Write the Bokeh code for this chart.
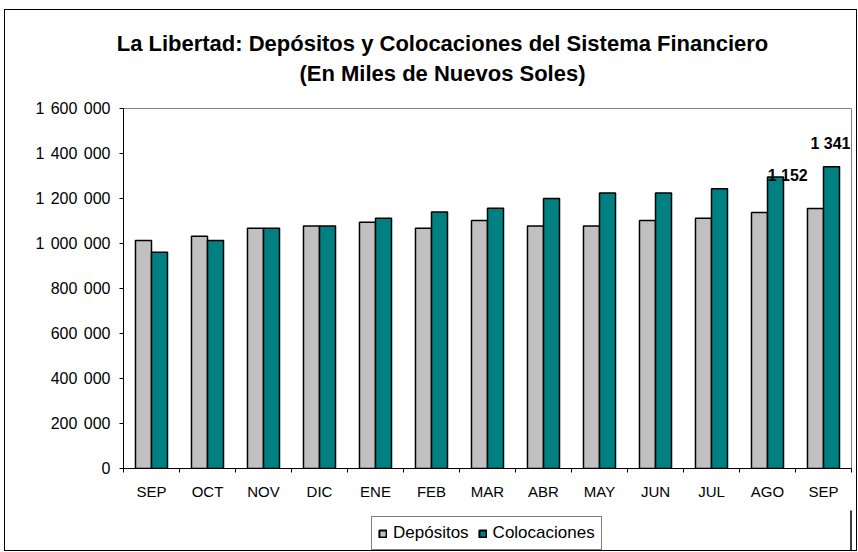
from bokeh.plotting import figure
from bokeh.layouts import column
from bokeh.models import (ColumnDataSource, FixedTicker, Range1d, Legend, LegendItem, Label, Div)
from bokeh.embed import file_html
from bokeh.resources import INLINE

months = ["SEP", "OCT", "NOV", "DIC", "ENE", "FEB", "MAR", "ABR", "MAY", "JUN", "JUL", "AGO", "SEP"]
depositos = [1013000, 1032000, 1068000, 1078000, 1095000, 1068000, 1102000, 1078000, 1078000,
             1102000, 1112000, 1138000, 1156000]
colocaciones = [961000, 1013000, 1068000, 1078000, 1112000, 1140000, 1157000, 1200000, 1225000,
                1225000, 1243000, 1296000, 1341000]
y_ticks = [0, 200000, 400000, 600000, 800000, 1000000, 1200000, 1400000, 1600000]
y_tick_labels = ["0", "200 000", "400 000", "600 000", "800 000", "1 000 000",
                 "1 200 000", "1 400 000", "1 600 000"]
data_labels = ["1 152", "1 341"]
title_lines = ["La Libertad: Depósitos y Colocaciones del Sistema Financiero",
               "(En Miles de Nuevos Soles)"]
series_names = ["Depósitos", "Colocaciones"]

FONT = "Liberation Sans"
GREY = "#C0C0C0"
TEAL = "#008080"
W = 851
n = len(months)
centers = [i + 0.5 for i in range(n)]
bw = 0.286

# ---- title ----
title_html = ('<div style="width:851px;box-sizing:border-box;padding-left:24px;padding-top:19px;'
              'text-align:center;font-family:\'Liberation Sans\';font-size:22px;font-weight:bold;'
              'line-height:30px;color:#000000;white-space:nowrap;">'
              + "<br>".join(title_lines) + '</div>')
tdiv = Div(text=title_html, width=W, height=88, margin=0)

# ---- main chart ----
src = ColumnDataSource(dict(
    xd=[c - bw / 2 for c in centers],
    xc=[c + bw / 2 for c in centers],
    dep=depositos, col=colocaciones))

p = figure(width=W, height=412, output_backend="svg", toolbar_location=None,
           x_range=Range1d(0, n), y_range=Range1d(0, 1600000),
           min_border_left=118, min_border_right=5, min_border_top=10, min_border_bottom=42)
p.outline_line_color = "#808080"
p.outline_line_width = 1
p.xgrid.visible = False
p.ygrid.visible = False

p.vbar(x="xd", top="dep", width=bw, source=src, fill_color=GREY,
       line_color="#000000", line_width=1.5)
p.vbar(x="xc", top="col", width=bw, source=src, fill_color=TEAL,
       line_color="#000000", line_width=1.5)

p.xaxis.ticker = FixedTicker(ticks=centers, minor_ticks=list(range(n + 1)))
p.xaxis.major_label_overrides = {c: m for c, m in zip(centers, months)}
p.xaxis.major_tick_line_color = None
p.xaxis.minor_tick_in = 0
p.xaxis.minor_tick_out = 4
p.xaxis.minor_tick_line_color = "#000000"
p.xaxis.axis_line_color = "#000000"
p.xaxis.major_label_text_font = FONT
p.xaxis.major_label_text_font_size = "15px"
p.xaxis.major_label_text_color = "#000000"
p.xaxis.major_label_standoff = 8

p.yaxis.ticker = FixedTicker(ticks=y_ticks)
p.yaxis.major_label_overrides = {t: l.replace(" ", "\u2009\u2009") for t, l in zip(y_ticks, y_tick_labels)}
p.yaxis.major_tick_in = 0
p.yaxis.major_tick_out = 4
p.yaxis.minor_tick_line_color = None
p.yaxis.axis_line_color = "#000000"
p.yaxis.major_tick_line_color = "#000000"
p.yaxis.major_label_text_font = FONT
p.yaxis.major_label_text_font_size = "16px"
p.yaxis.major_label_text_color = "#000000"
p.yaxis.major_label_standoff = 9

lab_x = [11.86, 12.625]
lab_y = [1302000, 1444000]
for t, xx, yy in zip(data_labels, lab_x, lab_y):
    p.add_layout(Label(x=xx, y=yy, text=t, text_align="center", text_baseline="middle",
                       text_font=FONT, text_font_size="16px", text_font_style="bold",
                       text_color="#000000"))

# ---- legend strip (its frame is aligned with the chart's frame) ----
lf = figure(width=W, height=40, output_backend="svg", toolbar_location=None,
            x_range=Range1d(0, 1), y_range=Range1d(0, 1),
            x_axis_location=None, y_axis_location=None,
            min_border_left=0, min_border_right=0, min_border_top=0, min_border_bottom=0)
lf.grid.visible = False
lf.outline_line_color = None
g1 = lf.vbar(x=[5], top=[1], width=0.1, fill_color=GREY, line_color="#000000", line_width=2)
g2 = lf.vbar(x=[5], top=[1], width=0.1, fill_color=TEAL, line_color="#000000", line_width=2)
legend = Legend(items=[LegendItem(label=series_names[0], renderers=[g1]),
                       LegendItem(label=series_names[1], renderers=[g2])],
                orientation="horizontal", location=(248, 0),
                label_text_font=FONT, label_text_font_size="17px", label_text_color="#000000",
                glyph_width=9, glyph_height=9, spacing=9, padding=6, margin=0,
                label_standoff=6, border_line_color="#000000", border_line_width=1,
                background_fill_color="#FFFFFF", background_fill_alpha=1)
lf.add_layout(legend, "center")

layout = column(tdiv, p, lf, spacing=0)
layout.styles = {"border": "1px solid #000000", "margin-left": "4px", "margin-top": "9px"}

open("out.html", "w").write(file_html(layout, INLINE))
